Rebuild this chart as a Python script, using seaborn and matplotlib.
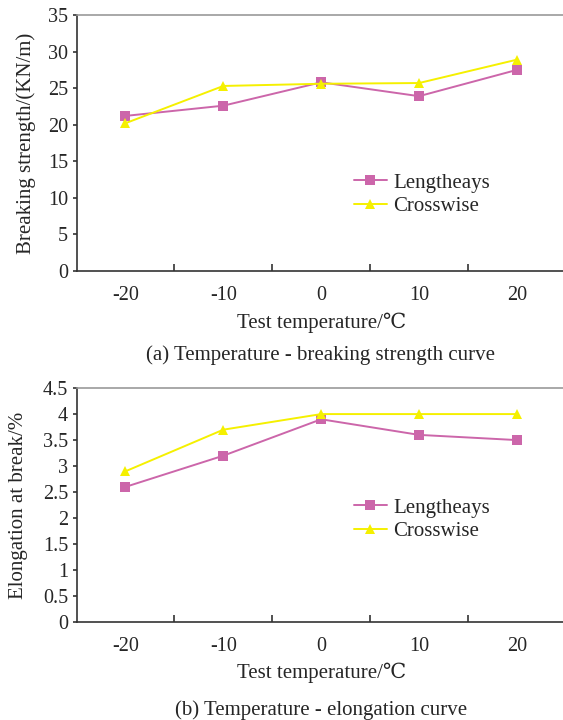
import pandas as pd
import matplotlib
matplotlib.use("Agg")
import matplotlib.pyplot as plt
import seaborn as sns
from matplotlib.ticker import FixedLocator, MultipleLocator, StrMethodFormatter

temps = ["-20", "-10", "0", "10", "20"]
series = ["Lengtheays", "Crosswise"]

strength_length = [21.2, 22.6, 25.8, 23.9, 27.5]
strength_cross = [20.2, 25.3, 25.6, 25.7, 28.9]

elong_length = [2.6, 3.2, 3.9, 3.6, 3.5]
elong_cross = [2.9, 3.7, 4.0, 4.0, 4.0]

colors = {"Lengtheays": "#cc66aa", "Crosswise": "#f5f000"}
markers = {"Lengtheays": "s", "Crosswise": "^"}

sns.set_style("white")
plt.rcParams['font.family'] = ['Liberation Serif', 'DejaVu Serif']


def make_df(a, b):
    return pd.DataFrame({
        "temp": temps * 2,
        "value": a + b,
        "series": [series[0]] * len(a) + [series[1]] * len(b),
    })


fig = plt.figure(figsize=(5.63, 7.2), dpi=100)
ax1 = fig.add_axes([0.136, 0.624, 0.869, 0.355])
ax2 = fig.add_axes([0.136, 0.136, 0.869, 0.325])


def draw(ax, df, ymax, ystep, ylabel, ylab_x, xlab_y, leg_y):
    sns.lineplot(data=df, x="temp", y="value", hue="series", style="series",
                 palette=colors, markers=markers, dashes=False, sort=False,
                 markersize=7, markeredgewidth=0, linewidth=1.4, ax=ax)
    ax.set_xlim(-0.5, 4.5)
    ax.set_ylim(0, ymax)
    ax.yaxis.set_major_locator(MultipleLocator(ystep))
    ax.yaxis.set_major_formatter(StrMethodFormatter("{x:g}"))
    ax.xaxis.set_major_locator(FixedLocator(range(len(temps))))
    ax.set_xticklabels(temps)
    ax.xaxis.set_minor_locator(FixedLocator([0.5, 1.5, 2.5, 3.5]))
    ax.tick_params(axis="x", which="major", length=0, pad=11, labelsize=14.5)
    ax.tick_params(axis="x", which="minor", direction="in", length=5,
                   width=1.2, color="#333333", bottom=True)
    ax.tick_params(axis="y", which="major", direction="out", length=3,
                   width=1.2, color="#333333", pad=3, labelsize=14.5, left=True)
    for s in ["left", "bottom"]:
        ax.spines[s].set_color("#333333")
        ax.spines[s].set_linewidth(1.2)
    ax.spines["top"].set_color("#999999")
    ax.spines["top"].set_linewidth(1.2)
    ax.spines["right"].set_visible(False)
    ax.set_ylabel(ylabel, fontsize=15)
    ax.yaxis.set_label_coords(ylab_x, 0.5)
    ax.set_xlabel("Test temperature/℃", fontsize=15)
    ax.xaxis.set_label_coords(0.5, xlab_y)
    ax.legend(title=None, frameon=False, fontsize=15, loc="center left",
              bbox_to_anchor=(0.545, leg_y), borderpad=0, handlelength=1.6,
              handletextpad=0.3, labelspacing=0.2)


draw(ax1, make_df(strength_length, strength_cross), 35, 5,
     "Breaking strength/(KN/m)", -0.083, -0.165, 0.297)
draw(ax2, make_df(elong_length, elong_cross), 4.5, 0.5,
     "Elongation at break/%", -0.1, -0.175, 0.437)

fig.text(0.57, 0.507, "(a) Temperature - breaking strength curve",
         ha="center", va="center", fontsize=15)
fig.text(0.57, 0.014, "(b) Temperature - elongation curve",
         ha="center", va="center", fontsize=15)

fig.savefig("out.png", dpi=100)
